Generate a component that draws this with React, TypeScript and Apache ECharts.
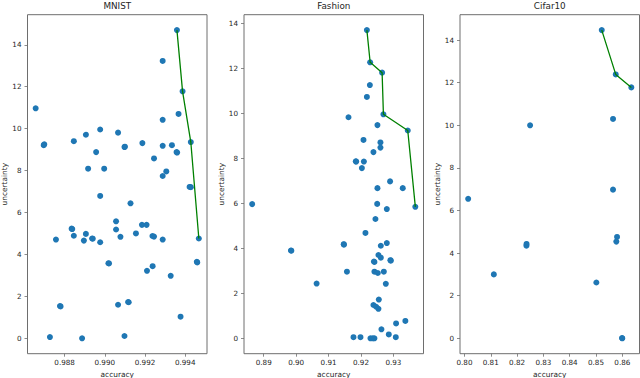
import React, { useEffect, useRef } from "react";
import * as echarts from "echarts";

// ---------- data ----------
const panelTitles = ["MNIST", "Fashion", "Cifar10"];

const mnistAccuracy = [
  0.98656, 0.98696, 0.98699, 0.98846, 0.98906, 0.98917, 0.98957, 0.98977, 0.98997, 0.99066,
  0.99098, 0.991, 0.99187, 0.99245, 0.99288, 0.99288, 0.99288, 0.99288, 0.99306, 0.99334,
  0.99357, 0.9936, 0.99359, 0.99367, 0.99387, 0.99428, 0.99422, 0.99428, 0.99468, 0.98757,
  0.98727, 0.98777, 0.9878, 0.98835, 0.98838, 0.98846, 0.98896, 0.98906, 0.98887, 0.98937,
  0.9894, 0.98977, 0.98977, 0.99018, 0.99021, 0.99056, 0.99056, 0.99078, 0.99066, 0.99098,
  0.99116, 0.99119, 0.99128, 0.99155, 0.99185, 0.99208, 0.9921, 0.99237, 0.99245, 0.99238,
  0.99288, 0.99328, 0.99377, 0.99458, 0.9946,
];
const mnistUncertainty = [
  10.97, 9.21, 9.25, 9.4, 9.71, 8.09, 8.88, 9.96, 8.09, 9.81,
  9.12, 9.14, 9.31, 8.58, 13.23, 10.42, 9.18, 7.74, 7.96, 9.21,
  8.88, 8.86, 14.7, 10.7, 11.78, 9.36, 7.22, 7.21, 4.76, 4.71,
  0.06, 1.54, 1.52, 5.23, 5.21, 4.89, 4.66, 4.98, 0.0, 4.76,
  4.75, 6.79, 4.58, 3.58, 3.57, 5.58, 5.19, 4.84, 1.6, 0.11,
  1.73, 1.72, 6.44, 5.0, 5.41, 5.41, 3.22, 4.88, 4.85, 3.44,
  4.71, 2.98, 1.03, 3.65, 3.62,
];
const mnistFrontAccuracy = [0.99359, 0.99387, 0.99428, 0.99468];
const mnistFrontUncertainty = [14.7, 11.78, 9.36, 4.76];

const fashionAccuracy = [
  0.92182, 0.92283, 0.92652, 0.92274, 0.92182, 0.92692, 0.91615, 0.92508, 0.93443, 0.92077,
  0.926, 0.926, 0.92385, 0.91852, 0.9184, 0.92089, 0.92028, 0.92898, 0.92508, 0.93289,
  0.93677, 0.925, 0.92797, 0.88643, 0.89852, 0.8984, 0.90631, 0.91474, 0.91468, 0.91566,
  0.92138, 0.92446, 0.92612, 0.92797, 0.92538, 0.92612, 0.92415, 0.924, 0.9292, 0.92908,
  0.92415, 0.9252, 0.92705, 0.92766, 0.92551, 0.92385, 0.92468, 0.92538, 0.93083, 0.93369,
  0.92631, 0.91769, 0.91985, 0.92292, 0.92363, 0.92415, 0.92858, 0.93074,
];
const fashionUncertainty = [
  13.7, 12.27, 11.81, 11.26, 10.73, 9.96, 9.83, 9.48, 9.24, 8.82,
  8.71, 8.48, 8.28, 7.86, 7.87, 7.86, 7.57, 6.98, 6.68, 6.68,
  5.85, 5.98, 5.75, 5.97, 3.9, 3.91, 2.44, 4.17, 4.19, 2.97,
  4.69, 5.31, 4.12, 4.24, 3.71, 3.59, 3.4, 3.42, 3.46, 3.48,
  2.97, 2.91, 2.97, 2.43, 1.73, 1.49, 1.41, 1.32, 0.67, 0.78,
  0.41, 0.06, 0.06, 0.01, 0.01, 0.01, 0.18, 0.06,
];
const fashionFrontAccuracy = [0.92182, 0.92283, 0.92652, 0.92692, 0.93443, 0.93677];
const fashionFrontUncertainty = [13.7, 12.27, 11.81, 9.96, 9.24, 5.85];

const cifarAccuracy = [
  0.85218, 0.8575, 0.86343, 0.82495, 0.85647, 0.80141, 0.85647, 0.81117, 0.82355, 0.8236,
  0.85013, 0.858, 0.85773, 0.85989, 0.86,
];
const cifarUncertainty = [
  14.47, 12.39, 11.78, 10.0, 10.3, 6.55, 6.98, 3.0, 4.35, 4.43,
  2.62, 4.76, 4.54, 0.01, 0.0,
];
const cifarFrontAccuracy = [0.85218, 0.8575, 0.86343];
const cifarFrontUncertainty = [14.47, 12.39, 11.78];

const mnistXTicks = [0.988, 0.99, 0.992, 0.994];
const fashionXTicks = [0.89, 0.9, 0.91, 0.92, 0.93];
const cifarXTicks = [0.8, 0.81, 0.82, 0.83, 0.84, 0.85, 0.86];
const yTicks = [0, 2, 4, 6, 8, 10, 12, 14];

// ---------- styling ----------
const FONT = "DejaVu Sans";
const TEXT = "#262626";
const FRAME = "#6e6e6e";
const DOT = "#1f77b4";
const FRONT = "#008000";

const GRID_LEFTS = [27.5, 244, 460];
const GRID_TOP = 14.7;
const GRID_W = 179.5;
const GRID_H = 339;

function padded(vals: number[]): [number, number] {
  const lo = Math.min(...vals);
  const hi = Math.max(...vals);
  const m = (hi - lo) * 0.05;
  return [lo - m, hi + m];
}

const zip = (a: number[], b: number[]) => a.map((v, i) => [v, b[i]]);

export default function App() {
  const ref = useRef<HTMLDivElement>(null);

  useEffect(() => {
    if (!ref.current) return;
    const chart = echarts.init(ref.current, undefined, { renderer: "svg" });

    const panels = [
      { acc: mnistAccuracy, unc: mnistUncertainty, fa: mnistFrontAccuracy, fu: mnistFrontUncertainty, ticks: mnistXTicks, dec: 3 },
      { acc: fashionAccuracy, unc: fashionUncertainty, fa: fashionFrontAccuracy, fu: fashionFrontUncertainty, ticks: fashionXTicks, dec: 2 },
      { acc: cifarAccuracy, unc: cifarUncertainty, fa: cifarFrontAccuracy, fu: cifarFrontUncertainty, ticks: cifarXTicks, dec: 2 },
    ];

    const grid: any[] = [];
    const xAxis: any[] = [];
    const yAxis: any[] = [];
    const series: any[] = [];
    const graphic: any[] = [];

    panels.forEach((p, i) => {
      grid.push({
        left: GRID_LEFTS[i],
        top: GRID_TOP,
        width: GRID_W,
        height: GRID_H,
        containLabel: false,
        outerBoundsMode: "none",
        show: true,
        borderColor: FRAME,
        borderWidth: 1,
        backgroundColor: "transparent",
      });
      const [xmin, xmax] = padded(p.acc);
      const [ymin, ymax] = padded(p.unc);
      xAxis.push({
        type: "value",
        gridIndex: i,
        min: xmin,
        max: xmax,
        axisLine: { show: false, onZero: false },
        splitLine: { show: false },
        axisTick: { show: true, interval: 0, customValues: p.ticks, length: 3, lineStyle: { color: FRAME, width: 0.8 } },
        axisLabel: {
          customValues: p.ticks,
          interval: 0,
          hideOverlap: false,
          formatter: (v: number) => v.toFixed(p.dec),
          fontSize: 7.2,
          fontFamily: FONT,
          color: TEXT,
          margin: 5,
        },
        name: "accuracy",
        nameLocation: "middle",
        nameGap: 15,
        nameTextStyle: { fontSize: 7.4, fontFamily: FONT, color: TEXT },
      });
      yAxis.push({
        type: "value",
        gridIndex: i,
        min: ymin,
        max: ymax,
        axisLine: { show: false, onZero: false },
        splitLine: { show: false },
        axisTick: { show: true, interval: 0, customValues: yTicks, length: 3, lineStyle: { color: FRAME, width: 0.8 } },
        axisLabel: {
          customValues: yTicks,
          interval: 0,
          hideOverlap: false,
          formatter: (v: number) => String(Math.round(v)),
          fontSize: 7.2,
          fontFamily: FONT,
          color: TEXT,
          margin: 6,
        },
        name: "uncertainty",
        nameLocation: "middle",
        nameGap: 18,
        nameTextStyle: { fontSize: 7.4, fontFamily: FONT, color: TEXT },
      });
      series.push({
        type: "scatter",
        xAxisIndex: i,
        yAxisIndex: i,
        data: zip(p.acc, p.unc),
        symbolSize: 6,
        itemStyle: { color: DOT, opacity: 1 },
        silent: true,
      });
      series.push({
        type: "line",
        xAxisIndex: i,
        yAxisIndex: i,
        data: zip(p.fa, p.fu),
        showSymbol: false,
        symbol: "none",
        lineStyle: { color: FRONT, width: 1.3 },
        silent: true,
      });
      graphic.push({
        type: "text",
        x: GRID_LEFTS[i] + GRID_W / 2,
        y: 6,
        style: {
          text: panelTitles[i],
          fontSize: 8.8,
          fontFamily: FONT,
          fill: TEXT,
          textAlign: "center",
          textVerticalAlign: "middle",
          verticalAlign: "middle",
        },
      });
    });

    chart.setOption({
      animation: false,
      backgroundColor: "#ffffff",
      grid,
      xAxis,
      yAxis,
      series,
      graphic,
    });

    return () => chart.dispose();
  }, []);

  return (
    <div
      ref={ref}
      style={{ position: "fixed", left: 0, top: 0, width: 640, height: 378 }}
    />
  );
}
